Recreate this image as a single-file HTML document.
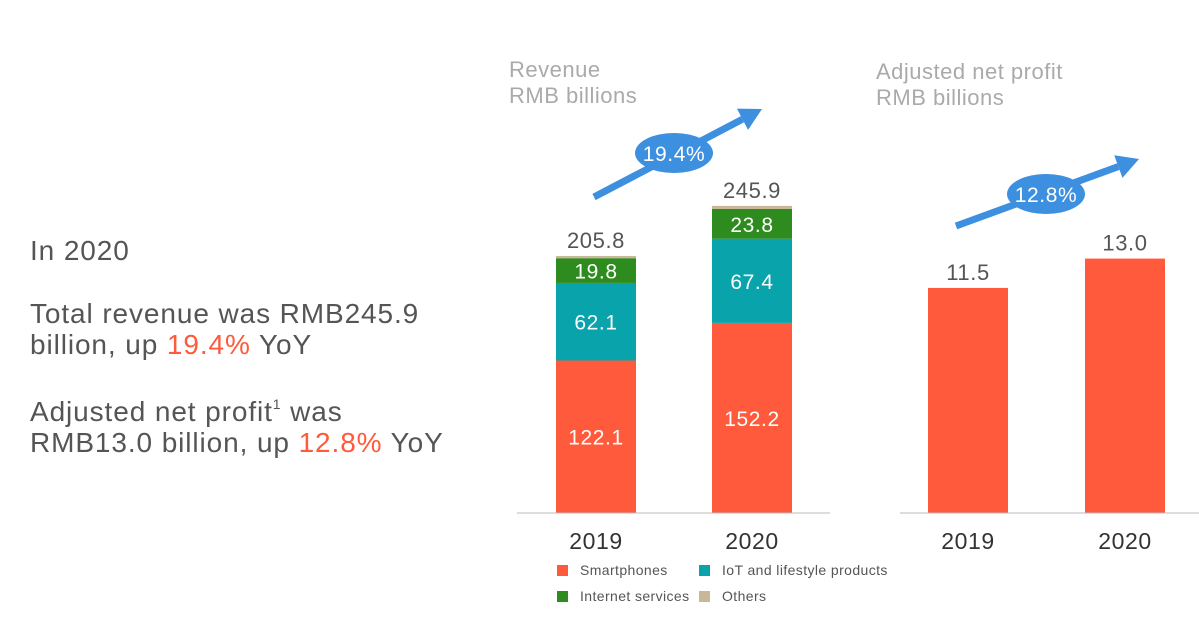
<!DOCTYPE html>
<html><head><meta charset="utf-8"><style>
body{margin:0;background:#fff;width:1199px;height:628px;overflow:hidden;font-family:"Liberation Sans",sans-serif}
.t{position:absolute;left:30px;color:#555;font-size:28px;line-height:30px;height:30px;letter-spacing:0.9px;white-space:nowrap}
.r{color:#ff5a3c}
sup{font-size:14px;line-height:0;vertical-align:0;position:relative;top:-12px}
</style></head><body>
<div class="t" style="top:236px">In 2020</div>
<div class="t" style="top:299px">Total revenue was RMB245.9</div>
<div class="t" style="top:330px">billion, up <span class="r">19.4%</span> YoY</div>
<div class="t" style="top:397px">Adjusted net profit<sup>1</sup> was</div>
<div class="t" style="top:428px">RMB13.0 billion, up <span class="r">12.8%</span> YoY</div>
<svg id="c" width="1199" height="628" style="position:absolute;left:0;top:0" font-family="Liberation Sans, sans-serif" letter-spacing="0.6"></svg>
<script>
const years=["2019","2020"];
const smartphones=[122.1,152.2];
const iot=[62.1,67.4];
const internet=[19.8,23.8];
const others=[1.8,2.5];
const totals=[205.8,245.9];
const profit=[11.5,13.0];
const revGrowth="19.4%", profGrowth="12.8%";
const svg=document.getElementById('c');const NS='http://www.w3.org/2000/svg';
function mk(t,a,txt){const e=document.createElementNS(NS,t);for(const k in a)e.setAttribute(k,a[k]);if(txt!=null)e.textContent=txt;svg.appendChild(e);return e;}
const base=513;
const yR=v=>base-v*1.249;
const yP=v=>base-v*19.57;
const xR=[556,712], xP=[928,1085], bw=80;
let e;
e=mk('text',{x:509,y:77,fill:'#aaa','font-size':22,'letter-spacing':0.5},'Revenue');
e=mk('text',{x:509,y:103,fill:'#aaa','font-size':22,'letter-spacing':0.5},'RMB billions');
e=mk('text',{x:876,y:79,fill:'#aaa','font-size':22,'letter-spacing':0.5},'Adjusted net profit');
e=mk('text',{x:876,y:105,fill:'#aaa','font-size':22,'letter-spacing':0.5},'RMB billions');
const series=[[smartphones,'#ff5a3c','smartphones'],[iot,'#08a3ab','iot'],[internet,'#2e8b1e','internet'],[others,'#c8b89a','others']];
years.forEach((yr,i)=>{
  let cum=0;
  series.forEach(([arr,col,nm])=>{
    const y0=yR(cum),y1=yR(cum+arr[i]);
    e=mk('rect',{x:xR[i],y:y1,width:bw,height:y0-y1,fill:col});
    
    if(nm!=='others'){e=mk('text',{x:xR[i]+bw/2,y:(y0+y1)/2+8,fill:'#fff','font-size':21,'text-anchor':'middle'},arr[i].toFixed(1));
    }
    cum+=arr[i];
  });
  e=mk('text',{x:xR[i]+bw/2,y:yR(totals[i])-8,fill:'#555','font-size':22,'text-anchor':'middle'},totals[i].toFixed(1));
  
  e=mk('text',{x:xR[i]+bw/2,y:549,fill:'#333','font-size':23,'text-anchor':'middle'},yr);
  
  e=mk('rect',{x:xP[i],y:yP(profit[i]),width:bw,height:base-yP(profit[i]),fill:'#ff5a3c'});
  
  e=mk('text',{x:xP[i]+bw/2,y:yP(profit[i])-8,fill:'#555','font-size':22,'text-anchor':'middle'},profit[i].toFixed(1));
  
  e=mk('text',{x:xP[i]+bw/2,y:549,fill:'#333','font-size':23,'text-anchor':'middle'},yr);
  
});
e=mk('line',{x1:517,y1:base,x2:830,y2:base,stroke:'#bbb','stroke-width':1});
e=mk('line',{x1:900,y1:base,x2:1199,y2:base,stroke:'#bbb','stroke-width':1});
function arrow(x1,y1,x2,y2,cx,cy,txt,nm){
  const dx=x2-x1,dy=y2-y1,L=Math.hypot(dx,dy),ux=dx/L,uy=dy/L;
  const bx=x2-ux*22,by=y2-uy*22;
  e=mk('line',{x1:x1,y1:y1,x2:bx,y2:by,stroke:'#3d8fe0','stroke-width':7});
  e=mk('polygon',{points:`${x2},${y2} ${bx-uy*12},${by+ux*12} ${bx+uy*12},${by-ux*12}`,fill:'#3d8fe0'});
  e=mk('ellipse',{cx:cx,cy:cy,rx:39,ry:20,fill:'#3d8fe0'});
  e=mk('text',{x:cx,y:cy+8,fill:'#fff','font-size':21,'text-anchor':'middle'},txt);
}
arrow(594,197,762,109,674,153,revGrowth,'revenue');
arrow(956,226,1139,159,1046,194,profGrowth,'profit');
const leg=[['Smartphones','#ff5a3c',557,565],['IoT and lifestyle products','#08a3ab',699,565],['Internet services','#2e8b1e',557,591],['Others','#c8b89a',699,591]];
leg.forEach(([t,c,x,y])=>{
  e=mk('rect',{x:x,y:y,width:11,height:11,fill:c});
  e=mk('text',{x:x+23,y:y+10,fill:'#555','font-size':14,'letter-spacing':0.4},t);
});
</script>
</body></html>
